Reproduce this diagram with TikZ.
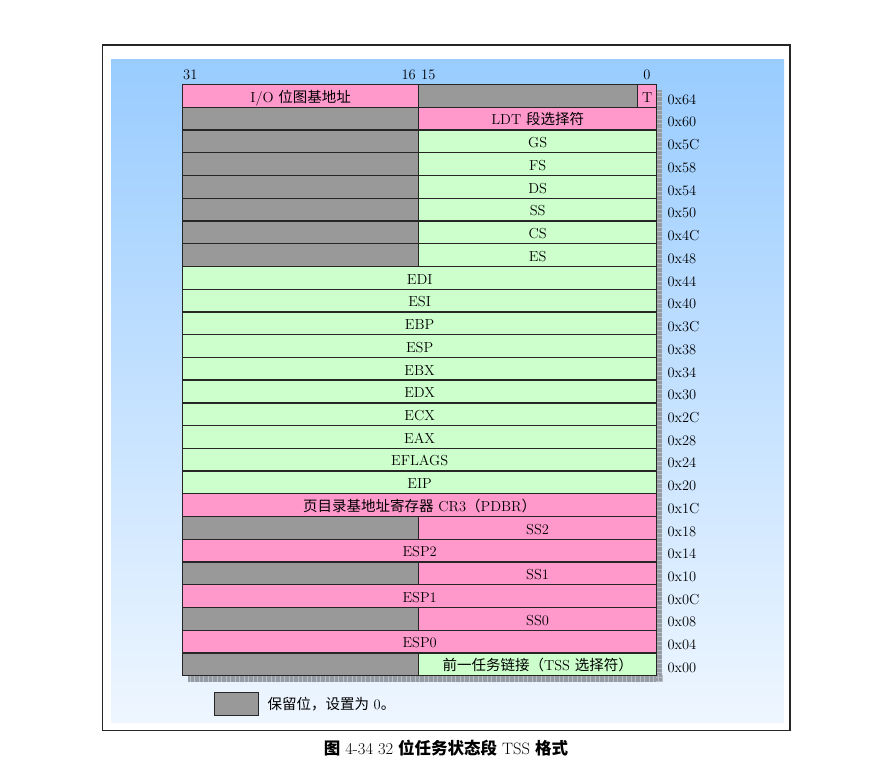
\documentclass[tikz,border=0pt]{standalone}
\usepackage{fontspec}
\newfontfamily\cjk{Noto Sans CJK SC}
\definecolor{pk}{RGB}{255,153,204}
\definecolor{gr}{RGB}{204,255,204}
\definecolor{gy}{RGB}{153,153,153}
\definecolor{bgtop}{RGB}{153,204,255}
\definecolor{bgbot}{RGB}{238,246,255}
\definecolor{shd}{RGB}{150,156,164}
\definecolor{shdl}{RGB}{185,190,196}
\newcommand\rh{22.73}
\newcommand\halfrow[4]{%
  \node[cell, fill=gy, minimum width=236pt] (L#1) at (182,{84+\rh*#1}) {};
  \node[cell, fill=#2, minimum width=238pt] (R#1) at (418,{84+\rh*#1}) {#3};
  \node[addr] (A#1) at ([xshift=10pt,yshift=-3.5pt]R#1.east) {#4};
}
\newcommand\fullrow[4]{%
  \node[cell, fill=#2, minimum width=474pt] (R#1) at (182,{84+\rh*#1}) {#3};
  \node[addr] (A#1) at ([xshift=10pt,yshift=-3.5pt]R#1.east) {#4};
}
\begin{document}
\begin{tikzpicture}[x=1pt,y=-1pt,
  font=\fontsize{14.5}{16}\selectfont,
  cell/.style={draw=black!85, line width=1.3pt, inner sep=0pt, anchor=north west,
    minimum height=\rh pt, text=black, text height=12.5pt, text depth=0pt},
  addr/.style={anchor=west, inner sep=0pt, text=black},
  hdr/.style={inner sep=0pt, text=black}]
\useasboundingbox (0,0) rectangle (891,779);
% outer frame and background
\draw[line width=1.5pt, black!85] (102.5,45) rectangle (790,730.5);
\shade[top color=bgtop, bottom color=bgbot] (111,59) rectangle (784,722);
% shadow
\fill[shd] (188,90) rectangle (662,681.5);
\foreach \k in {0,...,105} {\draw[shdl, line width=0.5pt] ({190+4.5*\k},675) -- ({190+4.5*\k},681.5);}
\foreach \k in {0,...,131} {\draw[shdl, line width=0.5pt] (656,{92+4.5*\k}) -- (662,{92+4.5*\k});}
% header bit numbers
\node[hdr, anchor=base west] (b31) at (183,79) {31};
\node[hdr, anchor=base east] (b16) at (416,79) {16};
\node[hdr, anchor=base west] (b15) at (421,79) {15};
\node[hdr, anchor=base] (b0) at (647,79) {0};
% row 0
\node[cell, fill=pk, minimum width=236pt] (L0) at (182,84) {I/O {\cjk 位图基地址}};
\node[cell, fill=gy, minimum width=219pt] (M0) at (418,84) {};
\node[cell, fill=pk, minimum width=19pt] (R0) at (637,84) {T};
\node[addr] (A0) at ([xshift=10pt,yshift=-3.5pt]R0.east) {0x64};
\halfrow{1}{pk}{LDT {\cjk 段选择符}}{0x60}
\halfrow{2}{gr}{GS}{0x5C}
\halfrow{3}{gr}{FS}{0x58}
\halfrow{4}{gr}{DS}{0x54}
\halfrow{5}{gr}{SS}{0x50}
\halfrow{6}{gr}{CS}{0x4C}
\halfrow{7}{gr}{ES}{0x48}
\fullrow{8}{gr}{EDI}{0x44}
\fullrow{9}{gr}{ESI}{0x40}
\fullrow{10}{gr}{EBP}{0x3C}
\fullrow{11}{gr}{ESP}{0x38}
\fullrow{12}{gr}{EBX}{0x34}
\fullrow{13}{gr}{EDX}{0x30}
\fullrow{14}{gr}{ECX}{0x2C}
\fullrow{15}{gr}{EAX}{0x28}
\fullrow{16}{gr}{EFLAGS}{0x24}
\fullrow{17}{gr}{EIP}{0x20}
\fullrow{18}{pk}{{\cjk 页目录基地址寄存器} CR3{\cjk （}PDBR{\cjk ）}}{0x1C}
\halfrow{19}{pk}{SS2}{0x18}
\fullrow{20}{pk}{ESP2}{0x14}
\halfrow{21}{pk}{SS1}{0x10}
\fullrow{22}{pk}{ESP1}{0x0C}
\halfrow{23}{pk}{SS0}{0x08}
\fullrow{24}{pk}{ESP0}{0x04}
\halfrow{25}{gr}{{\cjk 前一任务链接（}TSS {\cjk 选择符）}}{0x00}
% legend
\node[draw=black!85, line width=1.3pt, fill=gy, minimum width=44pt, minimum height=23pt,
  inner sep=0pt, anchor=north west] (leg) at (214,692) {};
\node[addr] (legt) at ([xshift=8pt]leg.east) {{\cjk 保留位，设置为} 0{\cjk 。}};
% caption
\node[inner sep=0pt, text=black, font=\fontsize{16.5}{18}\selectfont] (cap) at (446,748)
  {{\cjk\bfseries 图} 4-34 32 {\cjk\bfseries 位任务状态段} TSS {\cjk\bfseries 格式}};
\end{tikzpicture}
\end{document}
